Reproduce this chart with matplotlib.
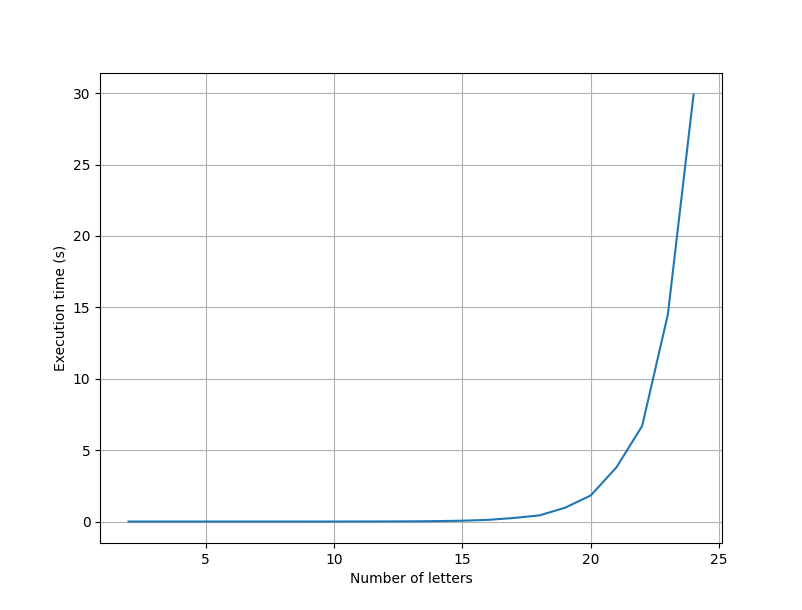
import matplotlib
matplotlib.use("Agg")
import matplotlib.pyplot as plt

# number of letters vs. time taken
letters = list(range(2, 25))
times = [0.0, 0.0, 0.0, 0.0, 0.0, 0.0, 0.0, 0.001, 0.002, 0.004, 0.008, 0.015,
         0.03, 0.06, 0.12, 0.25, 0.43, 0.97, 1.83, 3.8, 6.7, 14.5, 29.9]

fig = plt.figure(figsize=(8.02, 6.1), dpi=100)
plt.plot(letters, times)
plt.xlabel('Number of letters')
plt.ylabel('Execution time (s)')
plt.grid()
plt.savefig('out.png')
